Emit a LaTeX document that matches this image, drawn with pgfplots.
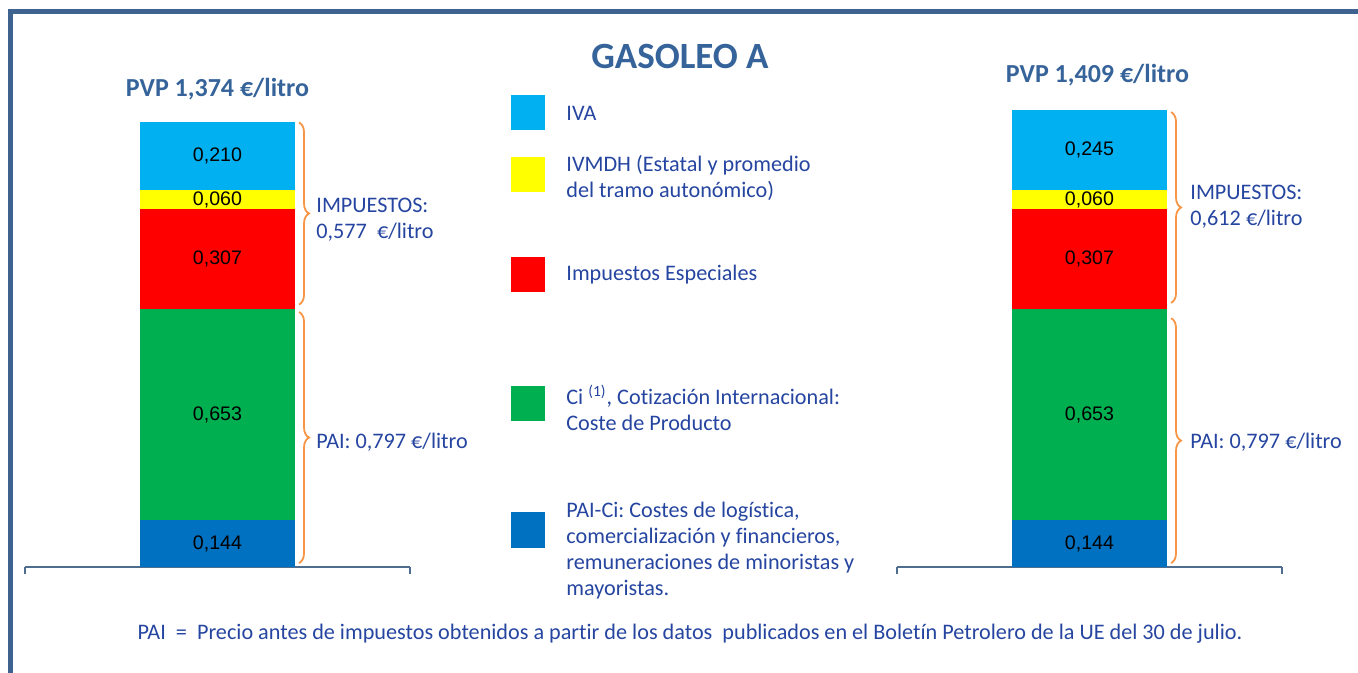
\documentclass[border=0pt]{standalone}
\usepackage{pgfplots}
\pgfplotsset{compat=1.18}
\usepackage{fontspec}
\setmainfont{Carlito}[Ligatures=NoCommon]
\newfontfamily\arial{Liberation Sans}
\usetikzlibrary{decorations.pathreplacing}
\frenchspacing
\definecolor{cIVA}{HTML}{00B0F0}
\definecolor{cIVMDH}{HTML}{FFFF00}
\definecolor{cIE}{HTML}{FF0000}
\definecolor{cCi}{HTML}{00B050}
\definecolor{cPAI}{HTML}{0070C0}
\definecolor{cbrace}{HTML}{F79646}
\definecolor{ctitle}{HTML}{36649A}
\definecolor{ctext}{HTML}{2545A0}
\definecolor{cframe}{HTML}{3F6391}
\definecolor{caxis}{HTML}{4F6D8F}
\newcommand{\txt}{\fontsize{11.1}{13}\selectfont}
\newcommand{\vlab}{\arial\fontsize{9.8}{11}\selectfont}
\tikzset{brc/.style={draw=cbrace, line width=0.9pt, decorate, decoration={brace, amplitude=5pt}}}
\pgfplotsset{
  barax/.style={
    scale only axis, width=192.5pt, height=243pt,
    xmin=-1.242, xmax=1.242, ymin=0, ymax=1.5,
    axis x line=bottom, axis y line=none,
    axis line style={-, draw=caxis, line width=0.7pt},
    xtick={-1.242,1.242}, xticklabels={},
    tick align=outside, major tick length=3.5pt,
    tick style={draw=caxis, line width=0.7pt},
    ytick=\empty,
    ybar stacked, bar width=1, clip=false,
    anchor=south west,
  },
}
\begin{document}
\begin{tikzpicture}[x=0.5pt,y=0.5pt]
\useasboundingbox (0,0) rectangle (1358,673);
% frame
\draw[cframe, line width=2.5pt] (10,-5) -- (10,661) -- (1370,661);
% title
\node[font=\bfseries\fontsize{18.5}{22}\selectfont, text=ctitle] at (680,616) {GASOLEO A};
\node[font=\bfseries\fontsize{13}{16}\selectfont, text=ctitle] at (217.5,584) {PVP 1,374 €/litro};
\node[font=\bfseries\fontsize{13}{16}\selectfont, text=ctitle] at (1097.5,598) {PVP 1,409 €/litro};

% left axis
\begin{axis}[barax, at={(12.5pt,53pt)}]
\addplot[fill=cPAI, draw=none] coordinates {(0,0.144)};
\addplot[fill=cCi, draw=none] coordinates {(0,0.653)};
\addplot[fill=cIE, draw=none] coordinates {(0,0.307)};
\addplot[fill=cIVMDH, draw=none] coordinates {(0,0.060)};
\addplot[fill=cIVA, draw=none] coordinates {(0,0.210)};
\coordinate (La) at (axis cs:0,0.072);
\coordinate (Lb) at (axis cs:0,0.4705);
\coordinate (Lc) at (axis cs:0,0.9505);
\coordinate (Ld) at (axis cs:0,1.134);
\coordinate (Le) at (axis cs:0,1.269);
\draw[brc] (axis cs:0.526,1.372) -- (axis cs:0.526,0.81);
\draw[brc] (axis cs:0.526,0.787) -- (axis cs:0.526,0.012);
\end{axis}
\node[font=\vlab] at (La) {0,144};
\node[font=\vlab] at (Lb) {0,653};
\node[font=\vlab] at (Lc) {0,307};
\node[font=\vlab] at (Ld) {0,060};
\node[font=\vlab] at (Le) {0,210};

% right axis
\begin{axis}[barax, at={(448.5pt,53pt)}]
\addplot[fill=cPAI, draw=none] coordinates {(0,0.144)};
\addplot[fill=cCi, draw=none] coordinates {(0,0.653)};
\addplot[fill=cIE, draw=none] coordinates {(0,0.307)};
\addplot[fill=cIVMDH, draw=none] coordinates {(0,0.060)};
\addplot[fill=cIVA, draw=none] coordinates {(0,0.245)};
\coordinate (Ra) at (axis cs:0,0.072);
\coordinate (Rb) at (axis cs:0,0.4705);
\coordinate (Rc) at (axis cs:0,0.9505);
\coordinate (Rd) at (axis cs:0,1.134);
\coordinate (Re) at (axis cs:0,1.2865);
\draw[brc] (axis cs:0.526,1.404) -- (axis cs:0.526,0.815);
\draw[brc] (axis cs:0.526,0.768) -- (axis cs:0.526,0.012);
\end{axis}
\node[font=\vlab] at (Ra) {0,144};
\node[font=\vlab] at (Rb) {0,653};
\node[font=\vlab] at (Rc) {0,307};
\node[font=\vlab] at (Rd) {0,060};
\node[font=\vlab] at (Re) {0,245};

% brace labels
\node[font=\txt, text=ctext, anchor=west, align=left, inner sep=0pt] at (316,453) {IMPUESTOS:\\0,577~~€/litro};
\node[font=\txt, text=ctext, anchor=west, inner sep=0pt] at (316,231) {PAI: 0,797 €/litro};
\node[font=\txt, text=ctext, anchor=west, align=left, inner sep=0pt] at (1190,466) {IMPUESTOS:\\0,612 €/litro};
\node[font=\txt, text=ctext, anchor=west, inner sep=0pt] at (1190,231) {PAI: 0,797 €/litro};

% legend
\fill[cIVA] (511,543) rectangle (545,578);
\fill[cIVMDH] (511,481) rectangle (545,516);
\fill[cIE] (511,381) rectangle (545,416);
\fill[cCi] (511,252) rectangle (545,287);
\fill[cPAI] (511,125) rectangle (545,161);
\node[font=\txt, text=ctext, anchor=west, inner sep=0pt] at (566,560) {IVA};
\node[font=\txt, text=ctext, anchor=west, align=left, inner sep=0pt] at (566,495) {IVMDH (Estatal y promedio\\del tramo autonómico)};
\node[font=\txt, text=ctext, anchor=west, inner sep=0pt] at (566,398) {Impuestos Especiales};
\node[font=\txt, text=ctext, anchor=west, align=left, inner sep=0pt] at (566,265) {Ci \textsuperscript{(1)}, Cotización Internacional:\\Coste de Producto};
\node[font=\txt, text=ctext, anchor=west, align=left, inner sep=0pt] at (566,122.5) {PAI-Ci: Costes de logística,\\comercialización y financieros,\\remuneraciones de minoristas y\\mayoristas.};

% footer
\node[font=\txt, text=ctext] at (690,39) {PAI~~=~~Precio antes de impuestos obtenidos a partir de los datos~~publicados en el Boletín Petrolero de la UE del 30 de julio.};
\end{tikzpicture}
\end{document}
